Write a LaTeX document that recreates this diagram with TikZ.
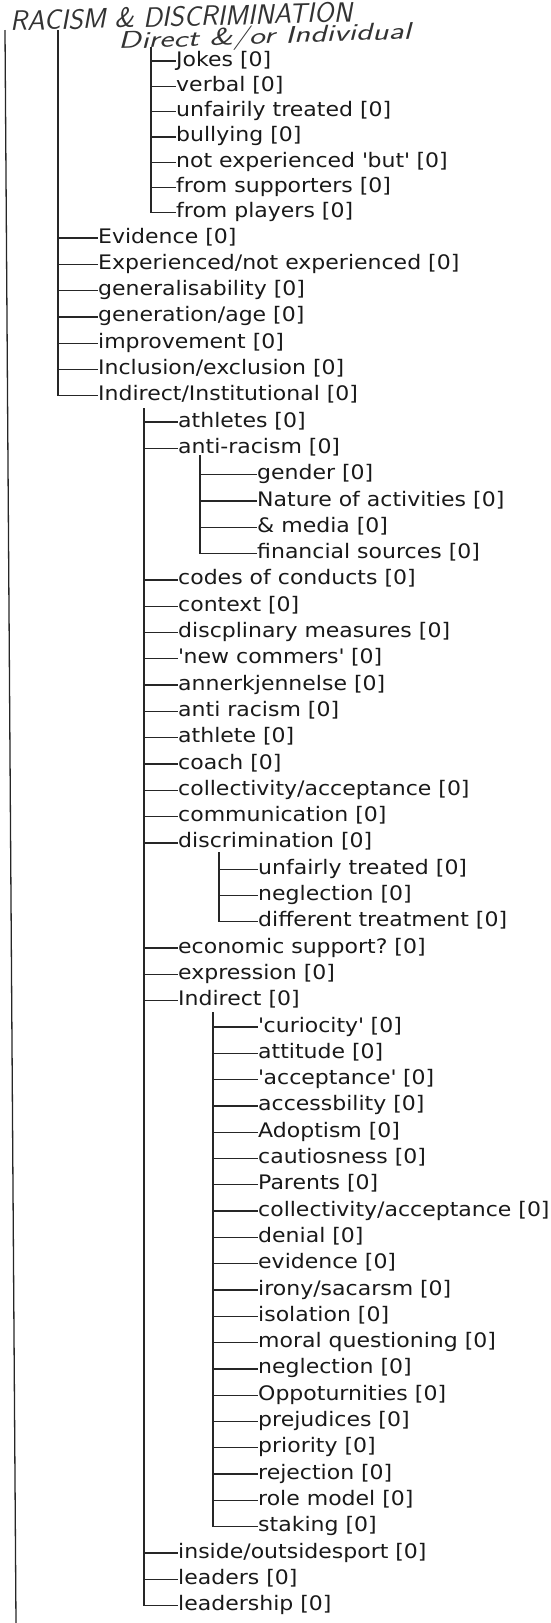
\documentclass[tikz,border=0pt]{standalone}
\usepackage{fontspec}
\newfontfamily\itemfont{DejaVu Sans}[FakeStretch=1.1]
\usetikzlibrary{positioning,calc}

\begin{document}
\begin{tikzpicture}[
  x=1pt,y=-1pt,
  declare function={rowy(\r)=(\r<8)*(61+25.3*(\r-1))+(\r>=8)*(238+26.3*(\r-8));},
  item/.style={anchor=west,inner sep=0pt,text height=10pt,text depth=0pt,
    font=\itemfont\fontsize{20}{24}\selectfont,text=black!90},
  hand/.style={anchor=west,inner sep=0pt,text=black!80},
  pen/.style={line width=1.3pt,black!85}]
  \useasboundingbox (0,0) rectangle (550,1623);
  % handwritten headings
  \node[hand,rotate=1.5,font=\sffamily\itshape\fontsize{28}{32}\selectfont] (title) at (10,21) {RACISM \& DISCRIMINATION};
  \node[hand,rotate=2,xscale=1.4,font=\sffamily\itshape\fontsize{24}{28}\selectfont] (sub) at (118,43) {Direct \&/or Individual};

  % trunk tops
  \coordinate (rootTop) at (5,30);
  \coordinate (rootEnd) at (16,1623);
  \coordinate (mainTop) at (58,30);
  \coordinate (directTop) at (151,47);
  \coordinate (instTop) at (144,408);
  \coordinate (antiTop) at (200,455);
  \coordinate (discTop) at (219,852);
  \coordinate (indTop) at (213,1012);

  \draw[pen] (rootTop) -- (rootEnd);

  % direct / individual
  \foreach \lab [count=\k] in {Jokes,verbal,unfairily treated,bullying,
      not experienced \textquotesingle but\textquotesingle,from supporters,from players}
    \node[item] (direct\k) at (176,{rowy(\k)}) {\lab\ [0]};
  \draw[pen] (directTop) |- (direct7.west);
  \foreach \k in {1,...,6}
    \draw[pen] (direct\k.west -| directTop) -- (direct\k.west);

  % first level
  \foreach \lab [count=\k from 8] in {Evidence,Experienced/not experienced,
      generalisability,generation/age,improvement,Inclusion/exclusion,Indirect/Institutional}
    \node[item] (main\k) at (98,{rowy(\k)}) {\lab\ [0]};
  \draw[pen] (mainTop) |- (main14.west);
  \foreach \k in {8,...,13}
    \draw[pen] (main\k.west -| mainTop) -- (main\k.west);

  % indirect / institutional
  \foreach \r/\lab in {15/athletes,16/anti-racism,21/codes of conducts,22/context,
      23/discplinary measures,24/\textquotesingle new commers\textquotesingle,
      25/annerkjennelse,26/anti racism,27/athlete,28/coach,
      29/{collectivity/acceptance},30/communication,31/discrimination,
      35/economic support?,36/expression,37/Indirect,
      58/{inside/outsidesport},59/leaders,60/leadership}
    \node[item] (inst\r) at (178,{rowy(\r)}) {\lab\ [0]};
  \draw[pen] (instTop) |- (inst60.west);
  \foreach \r in {15,16,21,22,23,24,25,26,27,28,29,30,31,35,36,37,58,59}
    \draw[pen] (inst\r.west -| instTop) -- (inst\r.west);

  % anti-racism
  \foreach \lab [count=\k from 17] in {gender,Nature of activities,\& media,financial sources}
    \node[item] (anti\k) at (257,{rowy(\k)}) {\lab\ [0]};
  \draw[pen] (antiTop) |- (anti20.west);
  \foreach \k in {17,18,19}
    \draw[pen] (anti\k.west -| antiTop) -- (anti\k.west);

  % discrimination
  \foreach \lab [count=\k from 32] in {unfairly treated,neglection,different treatment}
    \node[item] (disc\k) at (258,{rowy(\k)}) {\lab\ [0]};
  \draw[pen] (discTop) |- (disc34.west);
  \foreach \k in {32,33}
    \draw[pen] (disc\k.west -| discTop) -- (disc\k.west);

  % indirect
  \foreach \lab [count=\k from 38] in {\textquotesingle curiocity\textquotesingle,attitude,
      \textquotesingle acceptance\textquotesingle,accessbility,Adoptism,cautiosness,Parents,
      collectivity/acceptance,denial,evidence,irony/sacarsm,isolation,moral questioning,
      neglection,Oppoturnities,prejudices,priority,rejection,role model,staking}
    \node[item] (ind\k) at (258,{rowy(\k)}) {\lab\ [0]};
  \draw[pen] (indTop) |- (ind57.west);
  \foreach \k in {38,...,56}
    \draw[pen] (ind\k.west -| indTop) -- (ind\k.west);
\end{tikzpicture}
\end{document}
